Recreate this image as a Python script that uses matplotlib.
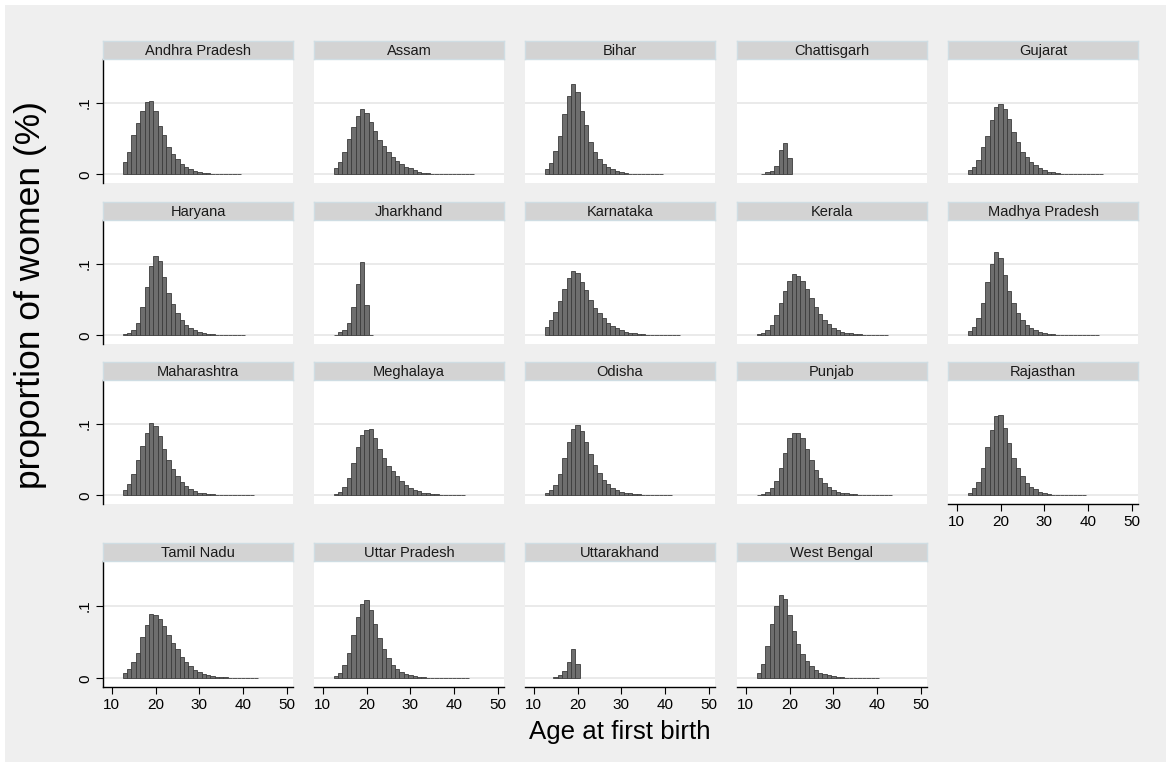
import matplotlib
matplotlib.use("Agg")
import matplotlib.pyplot as plt
from matplotlib.patches import Rectangle
import numpy as np

plt.rcParams['font.family'] = ['Liberation Sans', 'DejaVu Sans']

# age at first birth, one bar per year; each list starts at the given first age
states = ["Andhra Pradesh", "Assam", "Bihar", "Chattisgarh", "Gujarat",
          "Haryana", "Jharkhand", "Karnataka", "Kerala", "Madhya Pradesh",
          "Maharashtra", "Meghalaya", "Odisha", "Punjab", "Rajasthan",
          "Tamil Nadu", "Uttar Pradesh", "Uttarakhand", "West Bengal"]

first_age = [13, 13, 13, 14, 13,
             13, 13, 13, 13, 13,
             13, 13, 13, 13, 13,
             13, 13, 15, 13]

andhra = [0.017, 0.031, 0.055, 0.072, 0.089, 0.102, 0.103, 0.089, 0.068, 0.055,
          0.038, 0.0285, 0.021, 0.015, 0.0107, 0.0075, 0.0047, 0.003, 0.002, 0.0015,
          0.001, 0.0006, 0.0005, 0.0004, 0.0003, 0.0002, 0.0002]
assam = [0.0093, 0.018, 0.031, 0.050, 0.066, 0.082, 0.092, 0.086, 0.074, 0.061,
         0.049, 0.040, 0.032, 0.024, 0.019, 0.015, 0.011, 0.0084, 0.0056, 0.0037,
         0.0023, 0.0014, 0.001, 0.0008, 0.0006, 0.0005, 0.0004, 0.0003, 0.0003,
         0.0002, 0.0002, 0.0002]
bihar = [0.008, 0.016, 0.033, 0.054, 0.085, 0.110, 0.127, 0.116, 0.089, 0.069,
         0.046, 0.032, 0.022, 0.015, 0.011, 0.0075, 0.0047, 0.003, 0.002, 0.0013,
         0.0008, 0.0005, 0.0004, 0.0003, 0.0003, 0.0002, 0.0002]
chattisgarh = [0.0005, 0.003, 0.005, 0.012, 0.035, 0.044, 0.023]
gujarat = [0.006, 0.011, 0.020, 0.038, 0.054, 0.076, 0.094, 0.099, 0.092, 0.078,
           0.060, 0.045, 0.032, 0.025, 0.018, 0.0126, 0.0089, 0.006, 0.0037, 0.0028,
           0.0019, 0.0012, 0.0008, 0.0006, 0.0005, 0.0004, 0.0003, 0.0003, 0.0002,
           0.0002, 0.0002]
haryana = [0.002, 0.004, 0.008, 0.018, 0.040, 0.068, 0.098, 0.111, 0.104, 0.082,
           0.060, 0.044, 0.031, 0.021, 0.014, 0.010, 0.007, 0.005, 0.003, 0.002,
           0.0015, 0.001, 0.0008, 0.0006, 0.0005, 0.0004, 0.0003, 0.0003]
jharkhand = [0.0005, 0.005, 0.008, 0.017, 0.040, 0.072, 0.103, 0.043, 0.0005]
karnataka = [0.0117, 0.022, 0.033, 0.048, 0.065, 0.080, 0.091, 0.087, 0.075, 0.064,
             0.050, 0.039, 0.031, 0.024, 0.018, 0.0136, 0.0098, 0.007, 0.005, 0.0037,
             0.0028, 0.0019, 0.0014, 0.001, 0.0008, 0.0006, 0.0005, 0.0004, 0.0004,
             0.0003, 0.0003]
kerala = [0.002, 0.004, 0.008, 0.015, 0.028, 0.045, 0.062, 0.077, 0.086, 0.083,
          0.076, 0.065, 0.052, 0.040, 0.030, 0.022, 0.016, 0.011, 0.008, 0.005,
          0.004, 0.003, 0.002, 0.0015, 0.001, 0.0008, 0.0006, 0.0005, 0.0004, 0.0003]
madhya = [0.006, 0.012, 0.025, 0.045, 0.075, 0.100, 0.117, 0.108, 0.085, 0.063,
          0.045, 0.031, 0.021, 0.015, 0.010, 0.007, 0.005, 0.003, 0.002, 0.0015,
          0.001, 0.0008, 0.0006, 0.0005, 0.0004, 0.0003, 0.0003, 0.0002, 0.0002,
          0.0002]
maharashtra = [0.008, 0.016, 0.030, 0.050, 0.070, 0.088, 0.102, 0.098, 0.083, 0.065,
               0.050, 0.037, 0.027, 0.019, 0.013, 0.009, 0.006, 0.004, 0.003, 0.002,
               0.0015, 0.001, 0.0008, 0.0006, 0.0005, 0.0004, 0.0003, 0.0003, 0.0002,
               0.0002]
meghalaya = [0.002, 0.005, 0.012, 0.025, 0.045, 0.068, 0.085, 0.092, 0.093, 0.080,
             0.065, 0.052, 0.042, 0.034, 0.027, 0.020, 0.015, 0.011, 0.008, 0.006,
             0.004, 0.003, 0.002, 0.0015, 0.001, 0.0008, 0.0006, 0.0005, 0.0, 0.0004]
odisha = [0.003, 0.007, 0.015, 0.030, 0.052, 0.075, 0.093, 0.099, 0.090, 0.075,
          0.058, 0.043, 0.031, 0.022, 0.016, 0.011, 0.008, 0.005, 0.004, 0.003,
          0.002, 0.0015, 0.001, 0.0008, 0.0006, 0.0005, 0.0004, 0.0003, 0.0003]
punjab = [0.001, 0.002, 0.005, 0.010, 0.020, 0.038, 0.060, 0.080, 0.088, 0.087,
          0.080, 0.065, 0.050, 0.036, 0.025, 0.017, 0.012, 0.008, 0.005, 0.004,
          0.003, 0.002, 0.0015, 0.001, 0.0008, 0.0006, 0.0005, 0.0004, 0.0003,
          0.0003, 0.0002]
rajasthan = [0.003, 0.0098, 0.019, 0.038, 0.068, 0.092, 0.111, 0.113, 0.095, 0.074,
             0.053, 0.038, 0.027, 0.018, 0.012, 0.0084, 0.005, 0.003, 0.002, 0.0013,
             0.0009, 0.0006, 0.0005, 0.0004, 0.0003, 0.0003, 0.0002]
tamil = [0.0075, 0.013, 0.023, 0.035, 0.057, 0.074, 0.089, 0.088, 0.082, 0.072,
         0.060, 0.049, 0.040, 0.030, 0.023, 0.017, 0.011, 0.0084, 0.006, 0.0047,
         0.0033, 0.0023, 0.0019, 0.0012, 0.0009, 0.0007, 0.0005, 0.0004, 0.0004,
         0.0003, 0.0003]
uttar = [0.003, 0.008, 0.018, 0.035, 0.060, 0.085, 0.102, 0.108, 0.095, 0.075,
         0.055, 0.040, 0.028, 0.019, 0.013, 0.009, 0.006, 0.004, 0.003, 0.002,
         0.0015, 0.001, 0.0008, 0.0006, 0.0005, 0.0004, 0.0003, 0.0003, 0.0, 0.0002,
         0.0002]
uttarakhand = [0.002, 0.004, 0.010, 0.022, 0.040, 0.020]
bengal = [0.008, 0.020, 0.045, 0.075, 0.100, 0.115, 0.110, 0.088, 0.065, 0.048,
          0.034, 0.024, 0.017, 0.012, 0.008, 0.006, 0.004, 0.003, 0.002, 0.0015,
          0.001, 0.0008, 0.0006, 0.0005, 0.0004, 0.0003, 0.0003, 0.0002]

props = [andhra, assam, bihar, chattisgarh, gujarat,
         haryana, jharkhand, karnataka, kerala, madhya,
         maharashtra, meghalaya, odisha, punjab, rajasthan,
         tamil, uttar, uttarakhand, bengal]

xticks = [10, 20, 30, 40, 50]

W, H = 1171, 767
fig = plt.figure(figsize=(W / 100, H / 100), dpi=100)
fig.patch.set_facecolor("white")
fig.patches.append(Rectangle((5 / W, 5 / H), 1 - 10 / W, 1 - 10 / H,
                             transform=fig.transFigure, facecolor="#efefef",
                             edgecolor="none", zorder=-10))

col_x = [103, 314, 525, 737, 948]
strip_top = [41, 202, 362, 543]
plot_bot = [183, 344, 504, 687]
pw = 190
sh = 18

for i, (name, a0, vals) in enumerate(zip(states, first_age, props)):
    r, c = divmod(i, 5)
    x0 = col_x[c]
    top = strip_top[r] + sh
    bot = plot_bot[r]
    ax = fig.add_axes([x0 / W, 1 - bot / H, pw / W, (bot - top) / H])
    ax.set_facecolor("white")
    ages = np.arange(a0, a0 + len(vals))
    ax.axhline(0, color="#e6e6e6", lw=1.2, zorder=0)
    ax.axhline(0.1, color="#e6e6e6", lw=1.2, zorder=0)
    ax.bar(ages, vals, width=1.0, color="#6e6e6e", edgecolor="#3c3c3c",
           linewidth=0.6, zorder=2)
    ax.set_xlim(8, 51.4)
    ax.set_ylim(-0.012, 0.162)
    for s in ax.spines.values():
        s.set_visible(False)

    if c == 0:
        ax.spines["left"].set_visible(True)
        ax.spines["left"].set_linewidth(1.0)
        ax.set_yticks([0, 0.1])
        ax.set_yticklabels(["0", ".1"], rotation=90, va="center", fontsize=11)
        ax.tick_params(axis="y", length=5, width=0.8, pad=3)
    else:
        ax.set_yticks([])

    bottom_row = (r == 3) or (i == 14)
    if bottom_row:
        ax.spines["bottom"].set_visible(True)
        ax.spines["bottom"].set_linewidth(1.0)
        ax.set_xticks(xticks)
        ax.set_xticklabels([str(t) for t in xticks], fontsize=11)
        ax.tick_params(axis="x", length=5, width=0.8, pad=3)
    else:
        ax.set_xticks([])

    sax = fig.add_axes([x0 / W, 1 - (strip_top[r] + sh) / H, pw / W, sh / H])
    sax.set_facecolor("#d3d3d3")
    sax.set_xticks([])
    sax.set_yticks([])
    for s in sax.spines.values():
        s.set_color("#cfdde3")
        s.set_linewidth(1.0)
    sax.text(0.5, 0.45, name, ha="center", va="center", fontsize=10.5,
             color="#1a1a1a", transform=sax.transAxes)

fig.text(31 / W, 1 - 295 / H, "proportion of women (%)", rotation=90,
         ha="center", va="center", fontsize=25.5)
fig.text(620 / W, 1 - 732 / H, "Age at first birth", ha="center",
         va="center", fontsize=18.6)

fig.savefig("out.png", dpi=100, facecolor=fig.get_facecolor())
